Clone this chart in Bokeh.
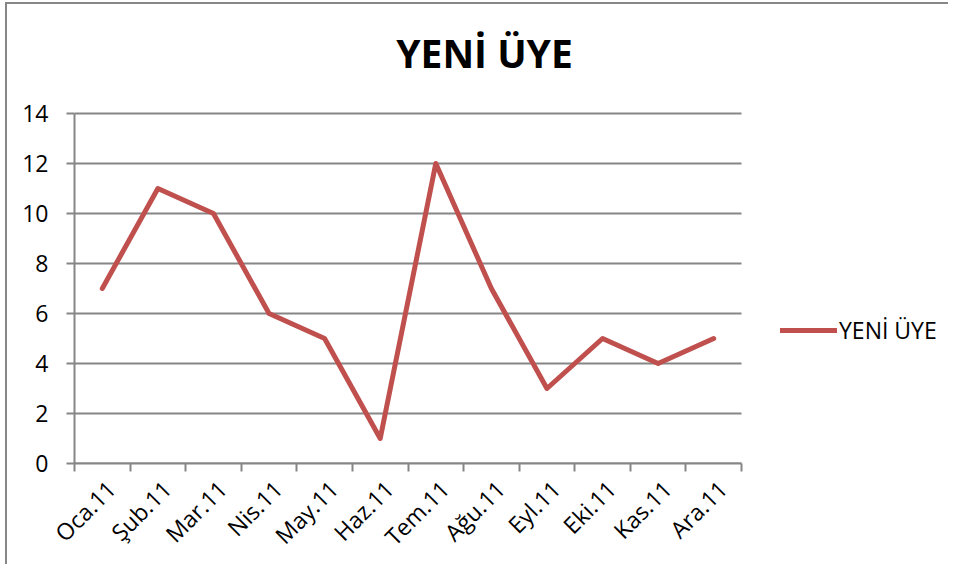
from bokeh.plotting import figure
from bokeh.models import FixedTicker, Legend, LegendItem, Range1d, Label
from bokeh.embed import file_html
from bokeh.resources import INLINE

months = ["Oca.11", "Şub.11", "Mar.11", "Nis.11", "May.11", "Haz.11",
          "Tem.11", "Ağu.11", "Eyl.11", "Eki.11", "Kas.11", "Ara.11"]
values = [7, 11, 10, 6, 5, 1, 12, 7, 3, 5, 4, 5]
y_ticks = [0, 2, 4, 6, 8, 10, 12, 14]
series_name = "YENİ ÜYE"
title_text = "YENİ ÜYE"

GRAY = "#868686"
RED = "#C0504D"
FONT = "Open Sans"

n = len(months)
y_max = y_ticks[-1]
xs = [i + 0.5 for i in range(n)]

W, H = 943, 562
MB_LEFT, MB_RIGHT, MB_TOP, MB_BOTTOM = 67, 8, 6, 99

# plot area: 667 px wide, 350 px tall, top edge 103 px below the frame top
px_per_cat = 667 / n
px_per_unit = 350 / y_max
frame_w = W - MB_LEFT - MB_RIGHT
x_end = frame_w / px_per_cat
y_end = y_max + 103 / px_per_unit
label_shift = 9 / px_per_cat  # rotated labels end slightly right of the category centre
label_pos = [x + label_shift for x in xs]

p = figure(width=W, height=H, output_backend="svg", toolbar_location=None,
           x_range=Range1d(0, x_end), y_range=Range1d(0, y_end),
           min_border_left=MB_LEFT, min_border_right=MB_RIGHT, min_border_top=MB_TOP,
           min_border_bottom=MB_BOTTOM,
           styles={"border-left": "2px solid #878787", "border-top": "2px solid #878787",
                   "margin-left": "5px", "margin-top": "2px"})
p.outline_line_color = None
p.background_fill_color = "white"
p.border_fill_color = "white"

# horizontal gridlines limited to the plot area
p.segment(x0=[0] * len(y_ticks), x1=[n] * len(y_ticks), y0=y_ticks, y1=y_ticks,
          line_color=GRAY, line_width=2)

line = p.line(xs, values, line_color=RED, line_width=5, line_join="round", line_cap="round")

# title
p.add_layout(Label(x=(484 - 74) / px_per_cat, y=y_max + 61 / px_per_unit, text=title_text,
                   text_align="center", text_baseline="alphabetic", text_font=FONT,
                   text_font_style="bold", text_font_size="39px", text_color="black"))

# x axis
p.xaxis.bounds = (0, n)
p.xaxis.ticker = FixedTicker(ticks=label_pos, minor_ticks=list(range(n + 1)))
p.xaxis.major_label_overrides = {x: m for x, m in zip(label_pos, months)}
p.xaxis.major_label_orientation = 0.785398
p.xaxis.major_tick_line_color = None
p.xaxis.minor_tick_line_color = GRAY
p.xaxis.minor_tick_line_width = 2
p.xaxis.minor_tick_out = 8
p.xaxis.minor_tick_in = 0
p.xaxis.axis_line_color = GRAY
p.xaxis.axis_line_width = 2
p.xaxis.major_label_text_font = FONT
p.xaxis.major_label_text_font_size = "23px"
p.xaxis.major_label_text_color = "black"
p.xaxis.major_label_standoff = 13

# y axis
p.yaxis.bounds = (0, y_max)
p.yaxis.ticker = FixedTicker(ticks=y_ticks)
p.yaxis.major_tick_line_color = GRAY
p.yaxis.major_tick_line_width = 2
p.yaxis.major_tick_out = 8
p.yaxis.major_tick_in = 0
p.yaxis.minor_tick_line_color = None
p.yaxis.axis_line_color = GRAY
p.yaxis.axis_line_width = 2
p.yaxis.major_label_text_font = FONT
p.yaxis.major_label_text_font_size = "23px"
p.yaxis.major_label_text_color = "black"
p.yaxis.major_label_standoff = 18

p.xgrid.grid_line_color = None
p.ygrid.grid_line_color = None

legend = Legend(items=[LegendItem(label=series_name, renderers=[line])],
                location=(706, 117), glyph_width=57, glyph_height=20,
                label_standoff=2, padding=0, margin=0, border_line_color=None,
                background_fill_alpha=0, label_text_font=FONT,
                label_text_font_size="23px", label_text_color="black")
p.add_layout(legend, "center")

open("out.html", "w").write(file_html(p, INLINE))
